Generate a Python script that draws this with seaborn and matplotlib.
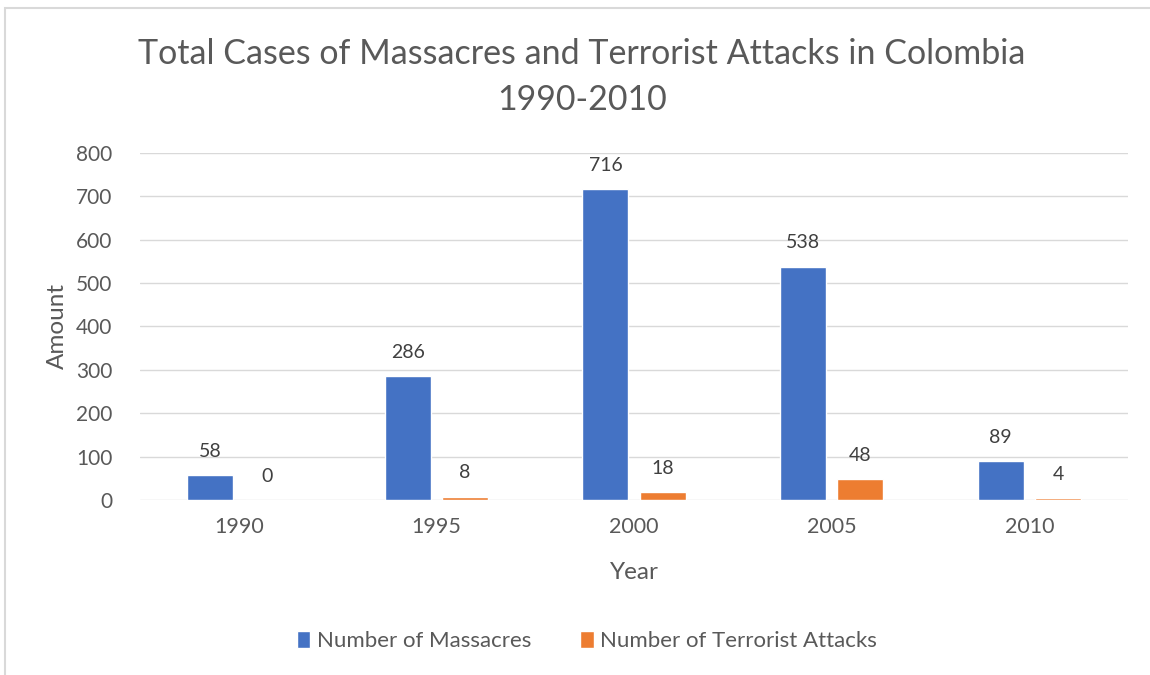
import matplotlib
matplotlib.use("Agg")
import matplotlib.pyplot as plt
import seaborn as sns
import pandas as pd
from matplotlib.patches import Rectangle

years = ["1990", "1995", "2000", "2005", "2010"]
massacres = [58, 286, 716, 538, 89]
terrorist = [0, 8, 18, 48, 4]
series_names = ["Number of Massacres", "Number of Terrorist Attacks"]
colors = ["#4472C4", "#ED7D31"]

df = pd.DataFrame({
    "Year": years * 2,
    "Amount": massacres + terrorist,
    "Series": [series_names[0]] * len(years) + [series_names[1]] * len(years),
})

sns.set_theme(style="white")
plt.rcParams['font.family'] = ['Lato', 'DejaVu Sans']
txt = "#595959"

fig = plt.figure(figsize=(11.5, 6.75), dpi=100)
ax = fig.add_axes([0.1217, 0.2593, 0.981 - 0.1217, 0.7733 - 0.2593])

sns.barplot(data=df, x="Year", y="Amount", hue="Series", palette=colors,
            width=0.58, gap=0.2, ax=ax, legend=True, saturation=1)

ax.set_ylim(0, 800)
ax.set_yticks(range(0, 801, 100))
ax.yaxis.grid(True, color="#d9d9d9", linewidth=1)
ax.set_axisbelow(True)
for s in ax.spines.values():
    s.set_visible(False)
ax.tick_params(axis="y", length=0, labelsize=15, colors=txt, pad=20)
ax.tick_params(axis="x", length=0, labelsize=15.5, colors=txt, pad=12)
ax.set_xlabel("Year", fontsize=17.5, color=txt, labelpad=18)
ax.set_ylabel("Amount", fontsize=17.5, color=txt, labelpad=6)

for cont in ax.containers:
    ax.bar_label(cont, fontsize=14, color="#404040", padding=11)

fig.text(582 / 1150, 1 - 77 / 675,
         "Total Cases of Massacres and Terrorist Attacks in Colombia\n1990-2010",
         ha="center", va="center", fontsize=24.5, color=txt, linespacing=1.55)

handles, labels = ax.get_legend_handles_labels()
ax.get_legend().remove()
leg = fig.legend(handles, labels, loc="center", bbox_to_anchor=(587 / 1150, 1 - 641 / 675),
                 ncol=2, frameon=False, fontsize=16, handlelength=0.6, handleheight=0.8,
                 handletextpad=0.3, columnspacing=2.2)
for t in leg.get_texts():
    t.set_color(txt)

fig.patches.append(Rectangle((5 / 1150, -0.01), 1.02, 1 - 8 / 675 + 0.01,
                             transform=fig.transFigure, fill=False,
                             edgecolor="#d9d9d9", linewidth=1.5))

fig.savefig("out.png", dpi=100)
